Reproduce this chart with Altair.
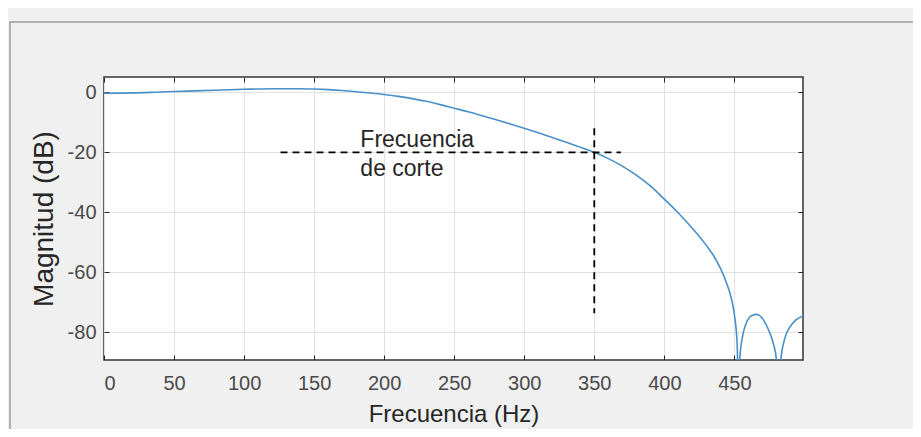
import altair as alt
import pandas as pd

# Frequency response
freq_hz = [0, 20, 40, 60, 80, 100, 120, 140, 150, 160, 170, 180, 190, 200, 210, 220, 230, 240,
           250, 260, 270, 280, 290, 300, 310, 320, 330, 340, 350, 360, 370, 380, 390,
           400, 410, 420, 430, 435, 440, 445, 448, 450, 452, 453, 454, 456, 458, 460,
           463, 466, 469, 472, 475, 478, 480, 481.5, 483, 486, 490, 494, 499]
mag_db = [-0.3, -0.2, 0.1, 0.4, 0.7, 1.0, 1.2, 1.2, 1.1, 0.9, 0.6, 0.2, -0.25, -0.75, -1.35,
          -2.1, -3.0, -4.1, -5.3, -6.5, -7.8, -9.15, -10.55, -12.0, -13.5, -15.05, -16.65,
          -18.3, -20.0, -22.1, -24.6, -27.6, -31.2, -35.6, -40.2, -45.3, -51.0, -54.3, -58.6,
          -64.3, -69.0, -74.0, -84.0, -100.0, -88.0, -81.0, -77.5, -75.5, -74.3, -74.0,
          -74.8, -76.8, -79.8, -84.0, -89.0, -100.0, -90.0, -82.0, -78.0, -75.8, -74.5]

x_ticks = [0, 50, 100, 150, 200, 250, 300, 350, 400, 450]
y_ticks = [-80, -60, -40, -20, 0]
x_domain = [0, 499]
y_domain = [-89.2, 5.1]

# Cut-off guide lines
h_guide = pd.DataFrame({"f1": [126], "f2": [369], "db": [-20]})
v_guide = pd.DataFrame({"f": [350], "db1": [-12], "db2": [-73.6]})
note_text = ["Frecuencia", "de corte"]
note_f = [183, 183]
note_db = [-18.1, -27.9]

curve = pd.DataFrame({"f": freq_hz, "db": mag_db})
notes = pd.DataFrame({"t": note_text, "f": note_f, "db": note_db})

FONT = "Liberation Sans"
LABEL_COL = "#4a4a4a"
TITLE_COL = "#262626"

xs = alt.Scale(domain=x_domain, nice=False, zero=False)
ys = alt.Scale(domain=y_domain, nice=False, zero=False)

x_axis = alt.Axis(orient="bottom", values=x_ticks, grid=True, gridColor="#e2e2e2",
                  domain=False, tickSize=5, tickColor="#262626", offset=-5,
                  labelPadding=13, labelFontSize=20, labelFont=FONT, labelColor=LABEL_COL,
                  title="Frecuencia (Hz)", titleFont=FONT, titleFontSize=24,
                  titleFontWeight="normal", titleColor=TITLE_COL, titlePadding=9)
y_axis = alt.Axis(orient="left", values=y_ticks, grid=True, gridColor="#e2e2e2",
                  domain=False, tickSize=5, tickColor="#262626", offset=-5,
                  labelPadding=8, labelFontSize=20, labelFont=FONT, labelColor=LABEL_COL,
                  labelExpr="replace(datum.label, '\u2212', '-')",
                  title="Magnitud (dB)", titleFont=FONT, titleFontSize=28,
                  titleFontWeight="normal", titleColor=TITLE_COL, titlePadding=9)
x_axis_top = alt.Axis(orient="top", values=x_ticks, grid=False, domain=False, tickSize=5,
                      tickColor="#262626", offset=-5, labels=False, title=None)
y_axis_right = alt.Axis(orient="right", values=y_ticks, grid=False, domain=False, tickSize=5,
                        tickColor="#262626", offset=-5, labels=False, title=None)

panel = alt.Chart(pd.DataFrame({"k": [0]})).mark_rect(
    fill=None, stroke="#9a9a9a", strokeWidth=1.5
).encode(x=alt.value(-94), x2=alt.value(900), y=alt.value(-55), y2=alt.value(500))

line = alt.Chart(curve).mark_line(color="#4a90c8", strokeWidth=1.6, clip=True,
                                  interpolate="monotone").encode(
    x=alt.X("f:Q", scale=xs, axis=x_axis),
    y=alt.Y("db:Q", scale=ys, axis=y_axis),
)
line_axes2 = alt.Chart(curve).mark_line(opacity=0, clip=True).encode(
    x=alt.X("f:Q", scale=xs, axis=x_axis_top),
    y=alt.Y("db:Q", scale=ys, axis=y_axis_right),
)

hrule = alt.Chart(h_guide).mark_rule(color="black", strokeWidth=1.8, strokeDash=[7, 5]).encode(
    x=alt.X("f1:Q", scale=xs, axis=None), x2="f2:Q",
    y=alt.Y("db:Q", scale=ys, axis=None),
)
vrule = alt.Chart(v_guide).mark_rule(color="black", strokeWidth=1.8, strokeDash=[7, 5]).encode(
    x=alt.X("f:Q", scale=xs, axis=None),
    y=alt.Y("db1:Q", scale=ys, axis=None), y2="db2:Q",
)
text = alt.Chart(notes).mark_text(align="left", baseline="alphabetic", font=FONT,
                                  fontSize=23, color="#262626").encode(
    x=alt.X("f:Q", scale=xs, axis=None),
    y=alt.Y("db:Q", scale=ys, axis=None),
    text="t:N",
)

chart = alt.layer(panel, line, line_axes2, hrule, vrule, text).resolve_axis(
    x="independent", y="independent"
).properties(
    width=699, height=283,
    autosize=alt.AutoSizeParams(type="none"),
    padding={"left": 96, "top": 69, "right": 110, "bottom": 69},
    background="#f0f0f0",
).configure_view(fill="white", stroke="#333333", strokeWidth=1.5)

chart.save("out.html", embed_options={"renderer": "svg", "actions": False})
